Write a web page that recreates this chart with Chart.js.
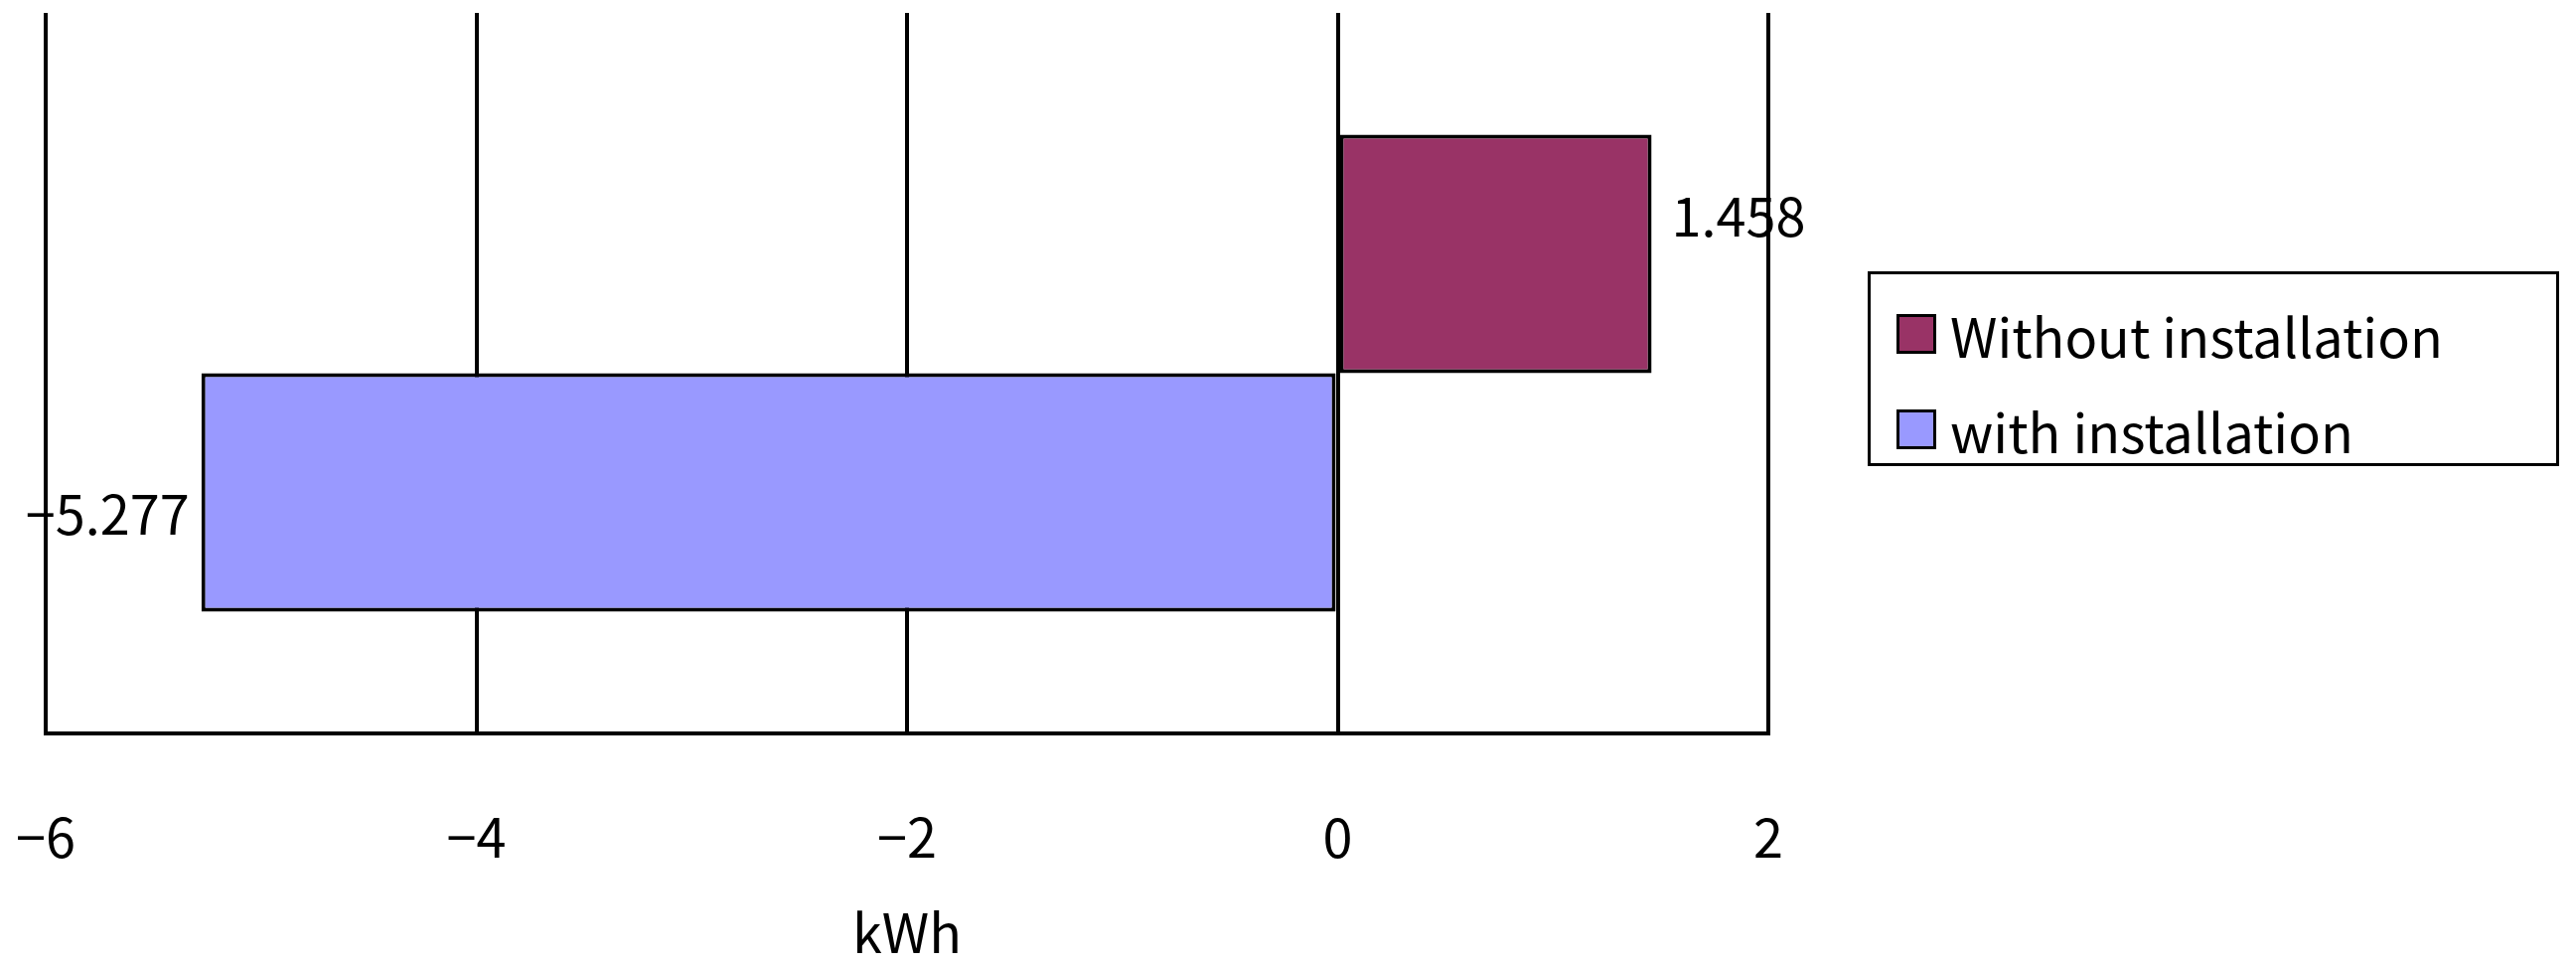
<!DOCTYPE html>
<html>
<head>
<meta charset="utf-8">
<script src="https://cdn.jsdelivr.net/npm/chart.js@4"></script>
<style>
body{margin:0;background:#fff;}
#wrap{position:relative;width:2593px;height:971px;}
#legend{position:absolute;left:1880px;top:273px;width:696px;height:196px;border:3px solid #000;box-sizing:border-box;
 font-family:"Noto Sans CJK JP";font-size:54px;color:#000;padding-top:12px;}
.row{display:flex;align-items:center;height:96px;padding-left:26px;}
.sw{width:34px;height:34px;border:3px solid #000;margin-right:14px;}
</style>
</head>
<body>
<div id="wrap">
<canvas id="myChart" width="2593" height="971"></canvas>
<div id="legend">
 <div class="row"><div class="sw" style="background:#993366"></div>Without installation</div>
 <div class="row"><div class="sw" style="background:#9999ff"></div>with installation</div>
</div>
</div>
<script>
const ctx = document.getElementById('myChart');

const categories = ['']
const seriesNames = ['Without installation', 'with installation']
const withoutInstallation = [1.458]
const withInstallation = [-5.277]
const xTicks = [-6, -4, -2, 0, 2]

const fnt = '"Noto Sans CJK JP"'

// value labels next to bar ends
const valueLabels = {
  id: 'valueLabels',
  afterDatasetsDraw(chart) {
    const c = chart.ctx
    c.save()
    c.font = '54px ' + fnt
    c.fillStyle = '#000'
    c.textBaseline = 'middle'
    chart.data.datasets.forEach((ds, i) => {
      chart.getDatasetMeta(i).data.forEach((bar, j) => {
        const v = ds.data[j]
        const txt = String(v).replace('-', '\u2212')
        if (v >= 0) { c.textAlign = 'left'; c.fillText(txt, bar.x + 20, bar.y - 38) }
        else { c.textAlign = 'right'; c.fillText(txt, bar.x - 12, bar.y + 22) }
      })
    })
    c.restore()
  }
}

let chart_1 = new Chart(ctx, {
  type: 'bar',
  data: {
    labels: categories,
    datasets: [{
      label: seriesNames[0],
      data: withoutInstallation,
      backgroundColor: '#993366',
      borderColor: '#000',
      borderWidth: 4,
      borderSkipped: false
    }, {
      label: seriesNames[1],
      data: withInstallation,
      backgroundColor: '#9999ff',
      borderColor: '#000',
      borderWidth: 4,
      borderSkipped: false
    }]
  },
  options: {
    indexAxis: 'y',
    responsive: false,
    animation: false,
    devicePixelRatio: 1,
    layout: { padding: { left: 46, right: 813, top: 13, bottom: 0 } },
    datasets: { bar: { categoryPercentage: 0.662, barPercentage: 1 } },
    plugins: { legend: { display: false }, tooltip: { enabled: false } },
    scales: {
      y: { display: false },
      x: {
        min: -6, max: 2,
        afterFit(scale) { scale.height = 233; scale.paddingLeft = 0 },
        afterBuildTicks(scale) { scale.ticks = xTicks.map(v => ({ value: v })) },
        grid: { color: '#000', lineWidth: 4, tickLength: 0 },
        border: { color: '#000', width: 4 },
        ticks: {
          color: '#000', padding: 72,
          font: { family: fnt, size: 54 },
          callback: v => String(v).replace('-', '\u2212')
        },
        title: {
          display: true, text: 'kWh', color: '#000',
          font: { family: fnt, size: 54 },
          padding: { top: 0, bottom: 0 }
        }
      }
    }
  },
  plugins: [valueLabels]
});
</script>
</body>
</html>
